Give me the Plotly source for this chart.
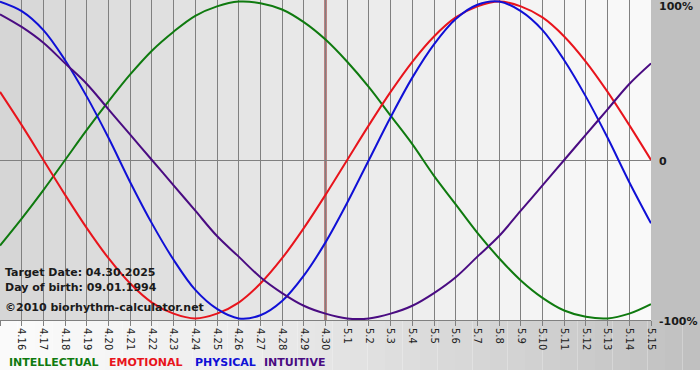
import plotly.graph_objects as go

# ---- data ----
dates = ["4.15", "4.16", "4.17", "4.18", "4.19", "4.20", "4.21", "4.22", "4.23", "4.24",
         "4.25", "4.26", "4.27", "4.28", "4.29", "4.30", "5.1", "5.2", "5.3", "5.4",
         "5.5", "5.6", "5.7", "5.8", "5.9", "5.10", "5.11", "5.12", "5.13", "5.14", "5.15"]

intellectual = [-0.54, -0.37, -0.19, 0.00, 0.19, 0.37, 0.54, 0.69, 0.81, 0.91,
                0.97, 1.00, 0.99, 0.95, 0.87, 0.76, 0.62, 0.46, 0.28, 0.10,
                -0.10, -0.28, -0.46, -0.62, -0.76, -0.87, -0.95, -0.99, -1.00, -0.97, -0.91]
emotional = [0.43, 0.22, 0.00, -0.22, -0.43, -0.62, -0.78, -0.90, -0.97, -1.00,
             -0.97, -0.90, -0.78, -0.62, -0.43, -0.22, 0.00, 0.22, 0.43, 0.62,
             0.78, 0.90, 0.97, 1.00, 0.97, 0.90, 0.78, 0.62, 0.43, 0.22, 0.00]
physical = [1.00, 0.94, 0.82, 0.63, 0.40, 0.14, -0.14, -0.40, -0.63, -0.82,
            -0.94, -1.00, -0.98, -0.89, -0.73, -0.52, -0.27, 0.00, 0.27, 0.52,
            0.73, 0.89, 0.98, 1.00, 0.94, 0.82, 0.63, 0.40, 0.14, -0.14, -0.40]
intuitive = [0.92, 0.84, 0.74, 0.61, 0.48, 0.32, 0.16, 0.00, -0.16, -0.32,
             -0.48, -0.61, -0.74, -0.84, -0.92, -0.97, -1.00, -1.00, -0.97, -0.92,
             -0.84, -0.74, -0.61, -0.48, -0.32, -0.16, 0.00, 0.16, 0.32, 0.48, 0.61]

target_date = "4.30"
series_names = ["INTELLECTUAL", "EMOTIONAL", "PHYSICAL", "INTUITIVE"]
y_labels = ["100%", "0", "-100%"]
info_lines = ["Target Date: 04.30.2025", "Day of birth: 09.01.1994", "©2010 biorhythm-calculator.net"]

# ---- styling ----
colors = {"INTELLECTUAL": "#0f7a0f", "EMOTIONAL": "#e8141c",
          "PHYSICAL": "#1010d6", "INTUITIVE": "#4a0c82"}
FONT = "DejaVu Sans"
W, H = 700, 380
ML, MR, MT, MB = 0, 49, 0, 60
PW, PH = W - ML - MR, H - MT - MB

xs = list(range(len(dates)))
fig = go.Figure()
for name, vals in zip(series_names, [intellectual, emotional, physical, intuitive]):
    fig.add_trace(go.Scatter(x=xs, y=vals, mode="lines", name=name,
                             line=dict(color=colors[name], width=2, shape="spline", smoothing=1.0),
                             hoverinfo="skip"))

shapes = []
n = len(dates) - 1

def gray(v):
    v = int(round(v))
    return f"rgb({v},{v},{v})"

# plot-area column backgrounds (dark left -> light right)
for i in range(n):
    t = i / (n - 1)
    shapes.append(dict(type="rect", xref="x", yref="paper", x0=i, x1=i + 1, y0=0, y1=1,
                       fillcolor=gray(214 + 35 * t ** 0.85), line=dict(width=0), layer="below"))
# right strip
shapes.append(dict(type="rect", xref="paper", yref="paper", x0=1, x1=W / PW, y0=0, y1=1,
                   fillcolor=gray(192), line=dict(width=0), layer="below"))
# bottom band gradient (white left -> gray right)
steps = 40
for i in range(steps):
    x0 = i / steps * W / PW
    x1 = (i + 1) / steps * W / PW
    t = i / (steps - 1)
    shapes.append(dict(type="rect", xref="paper", yref="paper", x0=x0, x1=x1,
                       y0=-(370 - PH) / PH, y1=0,
                       fillcolor=gray(250 - 58 * t ** 1.3), line=dict(width=0), layer="below"))
# target date line
ti = dates.index(target_date)
shapes.append(dict(type="line", xref="x", yref="paper", x0=ti, x1=ti, y0=0, y1=1,
                   line=dict(color="#8b1a1a", width=2), layer="between"))

annotations = []
# info texts
for txt, ypx in zip(info_lines, [272, 287, 307]):
    annotations.append(dict(text=txt, xref="paper", yref="paper", x=3 / PW, y=(PH - ypx) / PH,
                            xanchor="left", yanchor="middle", showarrow=False,
                            font=dict(family=FONT, size=11, color="#1a1a1a", weight="bold")))
# right labels
for txt, ypx in zip(y_labels, [7, 161, 321]):
    annotations.append(dict(text=txt, xref="paper", yref="paper", x=657 / PW, y=(PH - ypx) / PH,
                            xanchor="left", yanchor="middle", showarrow=False,
                            font=dict(family=FONT, size=11, color="#1a1a1a", weight="bold")))
# legend texts
for name, xpx in zip(series_names, [7, 107, 193, 262]):
    annotations.append(dict(text=name, xref="paper", yref="paper", x=xpx / PW, y=(PH - 362) / PH,
                            xanchor="left", yanchor="middle", showarrow=False,
                            font=dict(family=FONT, size=11, color=colors[name], weight="bold")))

fig.update_layout(
    width=W, height=H, margin=dict(l=ML, r=MR, t=MT, b=MB, pad=0, autoexpand=False),
    paper_bgcolor="white", plot_bgcolor="rgba(0,0,0,0)",
    showlegend=False, shapes=shapes, annotations=annotations,
    xaxis=dict(range=[0, n], tickvals=xs, ticktext=dates, tickangle=90,
               ticks="outside", ticklen=5, tickcolor="#808080", tickwidth=1,
               showgrid=True, gridcolor="#808080", gridwidth=1,
               showline=True, linecolor="#808080", linewidth=1, mirror=True,
               zeroline=False, fixedrange=True, automargin=False,
               tickfont=dict(family=FONT, size=10, color="#222222")),
    yaxis=dict(range=[-1.01, 1.01], showgrid=False, showticklabels=False,
               zeroline=True, zerolinecolor="#808080", zerolinewidth=1,
               showline=False, ticks="", fixedrange=True, automargin=False),
)

fig.write_html("out.html", config={"displayModeBar": False},
               post_script="document.body.style.margin='0';document.body.style.overflow='hidden';")
